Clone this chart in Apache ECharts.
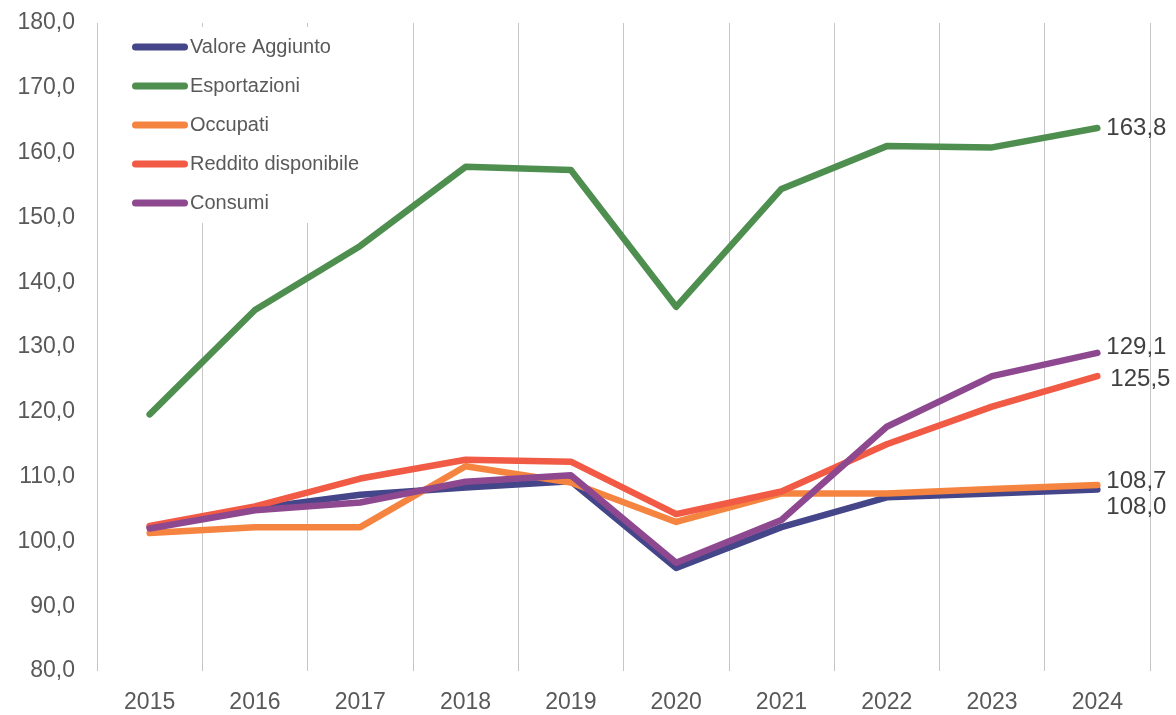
<!DOCTYPE html>
<html>
<head>
<meta charset="utf-8">
<script src="https://cdn.jsdelivr.net/npm/echarts@6/dist/echarts.min.js"></script>
<style>
  html, body { margin: 0; padding: 0; background: #fff; }
  #chart { width: 1176px; height: 715px; }
</style>
</head>
<body>
<div id="chart"></div>
<script>
// anni
const years = ["2015", "2016", "2017", "2018", "2019", "2020", "2021", "2022", "2023", "2024"]

// numeri indice (2015 circa 100)
const valoreAggiunto = [102.2, 105.1, 107.2, 108.3, 109.3, 95.9, 102.2, 106.8, 107.4, 108.0]
const esportazioni = [119.6, 135.7, 145.6, 157.8, 157.3, 136.2, 154.4, 161.0, 160.8, 163.8]
const occupati = [101.3, 102.2, 102.2, 111.6, 109.1, 103.0, 107.4, 107.4, 108.1, 108.7]
const redditoDisponibile = [102.4, 105.4, 109.7, 112.6, 112.3, 104.2, 107.7, 115.0, 120.8, 125.5]
const consumi = [102.0, 104.8, 106.0, 109.2, 110.2, 96.7, 103.3, 117.7, 125.5, 129.1]

const yTicks = { min: 80, max: 180, interval: 10 }

const TEXT_COLOR = "#595959"
const fmt = (v) => v.toFixed(1).replace(".", ",")

const seriesDefs = [
  { name: "Valore Aggiunto", values: valoreAggiunto, color: "#45458A", labelOffset: [0, 18] },
  { name: "Esportazioni", values: esportazioni, color: "#4E8F4F", labelOffset: [0, 0] },
  { name: "Occupati", values: occupati, color: "#F58441", labelOffset: [0, -4] },
  { name: "Reddito disponibile", values: redditoDisponibile, color: "#F15A45", labelOffset: [4, 3] },
  { name: "Consumi", values: consumi, color: "#8E4890", labelOffset: [0, -5] }
]

const chart = echarts.init(document.getElementById("chart"), null, { renderer: "canvas" })

const series = seriesDefs.map((s) => {
  return {
    name: s.name,
    type: "line",
    symbol: "none",
    color: s.color,
    lineStyle: { width: 6.5, color: s.color, cap: "round", join: "round" },
    // etichetta solo sull'ultimo punto
    endLabel: {
      show: true,
      distance: 9,
      offset: s.labelOffset,
      formatter: (p) => fmt(p.value),
      fontFamily: "Liberation Sans",
      fontSize: 24,
      color: "#404040"
    },
    data: s.values
  }
})

const option = {
  animation: false,
  backgroundColor: "#fff",
  textStyle: { fontFamily: "Liberation Sans" },
  grid: { left: 97, right: 26, top: 23, bottom: 44 },
  legend: {
    orient: "vertical",
    left: 100,
    top: 27,
    padding: [10, 10, 10, 32],
    backgroundColor: "#fff",
    itemGap: 19,
    itemWidth: 56,
    itemHeight: 7,
    icon: "path://M3.5,0 H52.5 A3.5,3.5 0 0 1 52.5,7 H3.5 A3.5,3.5 0 0 1 3.5,0 Z",
    textStyle: { fontSize: 20, lineHeight: 20, color: TEXT_COLOR, padding: [0, 0, 0, -3] },
    data: seriesDefs.map((s) => s.name)
  },
  xAxis: {
    type: "category",
    data: years,
    boundaryGap: true,
    axisLine: { show: false },
    axisTick: { show: false },
    axisLabel: { fontSize: 23, color: TEXT_COLOR, margin: 20 },
    splitLine: { show: true, interval: 0, lineStyle: { color: "#C6C6C6", width: 1 } }
  },
  yAxis: {
    type: "value",
    min: yTicks.min,
    max: yTicks.max,
    interval: yTicks.interval,
    axisLine: { show: false },
    axisTick: { show: false },
    splitLine: { show: false },
    axisLabel: { fontSize: 23, color: TEXT_COLOR, margin: 22, formatter: fmt }
  },
  series: series
}

chart.setOption(option)
</script>
</body>
</html>
